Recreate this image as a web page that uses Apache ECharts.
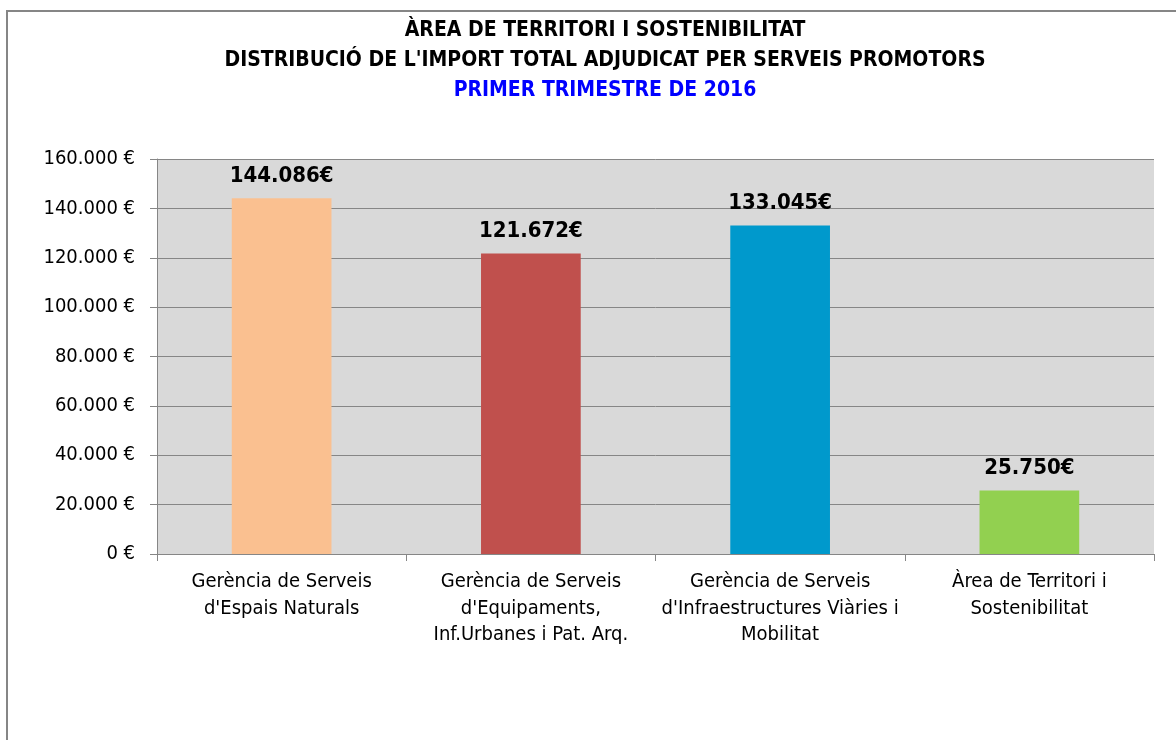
<!DOCTYPE html>
<html>
<head>
<meta charset="utf-8">
<script src="https://cdn.jsdelivr.net/npm/echarts@6/dist/echarts.min.js"></script>
<style>
  html, body { margin: 0; padding: 0; background: #fff; }
  #chart { width: 1176px; height: 740px; }
</style>
</head>
<body>
<div id="chart"></div>
<script>
const categories = [
  "Gerència de Serveis\nd'Espais Naturals",
  "Gerència de Serveis\nd'Equipaments,\nInf.Urbanes i Pat. Arq.",
  "Gerència de Serveis\nd'Infraestructures Viàries i\nMobilitat",
  "Àrea de Territori i\nSostenibilitat"
];
const amounts = [144086, 121672, 133045, 25750];
const barColors = ["#fac090", "#c0504d", "#0099cc", "#92d050"];
const titleLines = [
  { text: "ÀREA DE TERRITORI I SOSTENIBILITAT", color: "#000" },
  { text: "DISTRIBUCIÓ DE L'IMPORT TOTAL ADJUDICAT PER SERVEIS PROMOTORS", color: "#000" },
  { text: "PRIMER TRIMESTRE DE 2016", color: "#0000ff" }
];

const font = "'Liberation Sans Narrow', 'DejaVu Sans Condensed', sans-serif";
const fmt = (v) => String(v).replace(/\B(?=(\d{3})+(?!\d))/g, ".");

const chart = echarts.init(document.getElementById("chart"));
chart.setOption({
  animation: false,
  textStyle: { fontFamily: font },
  graphic: [
    {
      type: "rect",
      shape: { x: 7, y: 11, width: 1200, height: 800 },
      style: { fill: null, stroke: "#868686", lineWidth: 2 }
    },
    ...titleLines.map((t, i) => ({
      type: "text",
      x: 605,
      y: 31 + i * 30,
      style: {
        text: t.text,
        font: "bold 21px " + font,
        fill: t.color,
        textAlign: "center",
        textVerticalAlign: "middle"
      }
    }))
  ],
  grid: {
    left: 157,
    right: 22,
    top: 159,
    bottom: 186,
    show: true,
    backgroundColor: "#d9d9d9",
    borderWidth: 0
  },
  xAxis: {
    type: "category",
    data: categories,
    axisLine: { lineStyle: { color: "#868686" } },
    axisTick: { show: true, length: 7, lineStyle: { color: "#868686" } },
    axisLabel: {
      color: "#000",
      fontSize: 20,
      lineHeight: 26.5,
      margin: 15,
      interval: 0,
      fontFamily: font
    }
  },
  yAxis: {
    type: "value",
    min: 0,
    max: 160000,
    interval: 20000,
    axisLine: { show: true, lineStyle: { color: "#868686" } },
    axisTick: { show: true, length: 7, lineStyle: { color: "#868686" } },
    splitLine: { lineStyle: { color: "#868686" } },
    axisLabel: {
      color: "#000",
      fontSize: 20,
      margin: 22,
      fontFamily: font,
      formatter: (v) => fmt(v) + " €"
    }
  },
  series: [
    {
      type: "bar",
      barWidth: "40%",
      data: amounts.map((v, i) => ({ value: v, itemStyle: { color: barColors[i] } })),
      label: {
        show: true,
        position: "top",
        distance: 11,
        color: "#000",
        fontSize: 22,
        fontWeight: "bold",
        fontFamily: font,
        formatter: (p) => fmt(p.value) + "€"
      }
    }
  ]
});
</script>
</body>
</html>
